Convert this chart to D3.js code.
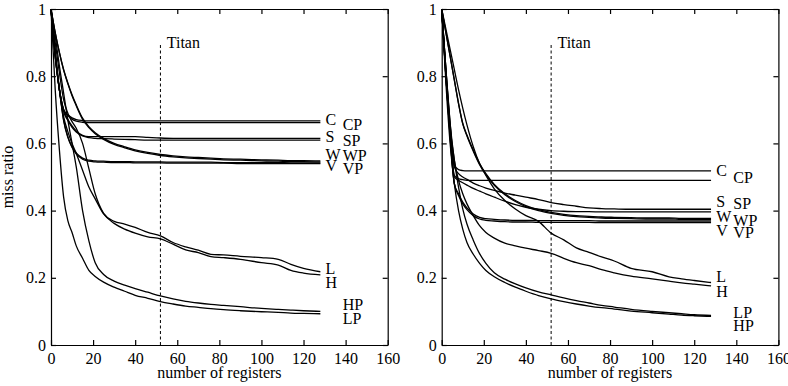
<!DOCTYPE html>
<html>
<head>
<meta charset="utf-8">
<script src="https://cdn.jsdelivr.net/npm/d3@7"></script>
<style>
  body { margin: 0; background: #fff; }
  svg { display: block; font-family: "Liberation Serif", "DejaVu Serif", serif; }
</style>
</head>
<body>
<div id="viz"></div>
<script>
// register counts where the curves are sampled
var regs = [0, 2, 4, 6, 8, 10, 12, 15, 18, 21, 25, 30, 35, 40, 46, 52, 58, 64, 70, 76, 82, 90, 100, 108, 114, 120, 128];

var xTicks = [0, 20, 40, 60, 80, 100, 120, 140, 160];
var yTicks = [0, 0.2, 0.4, 0.6, 0.8, 1];
var titanRegs = 52;

// left panel
var leftC  = [1, 0.86, 0.76, 0.70, 0.685, 0.676, 0.671, 0.668, 0.667, 0.667, 0.667, 0.667, 0.667, 0.667, 0.667, 0.667, 0.667, 0.667, 0.667, 0.667, 0.667, 0.667, 0.667, 0.667, 0.667, 0.667, 0.667];
var leftCP = [1, 0.86, 0.76, 0.70, 0.683, 0.672, 0.666, 0.663, 0.662, 0.662, 0.662, 0.662, 0.662, 0.662, 0.662, 0.662, 0.662, 0.662, 0.662, 0.662, 0.662, 0.662, 0.662, 0.662, 0.662, 0.662, 0.662];
var leftS  = [1, 0.86, 0.76, 0.70, 0.672, 0.652, 0.637, 0.624, 0.620, 0.620, 0.620, 0.620, 0.620, 0.620, 0.618, 0.616, 0.615, 0.615, 0.615, 0.615, 0.615, 0.615, 0.615, 0.615, 0.615, 0.615, 0.615];
var leftSP = [1, 0.86, 0.76, 0.695, 0.668, 0.648, 0.634, 0.622, 0.617, 0.615, 0.614, 0.613, 0.612, 0.611, 0.610, 0.610, 0.610, 0.610, 0.610, 0.610, 0.610, 0.610, 0.610, 0.610, 0.610, 0.610, 0.610];
var leftW  = [1, 0.93, 0.87, 0.82, 0.78, 0.745, 0.715, 0.675, 0.650, 0.632, 0.615, 0.600, 0.590, 0.581, 0.573, 0.567, 0.563, 0.560, 0.558, 0.556, 0.554, 0.553, 0.551, 0.550, 0.549, 0.549, 0.548];
var leftWP = [1, 0.93, 0.87, 0.818, 0.778, 0.742, 0.712, 0.672, 0.647, 0.629, 0.612, 0.597, 0.587, 0.578, 0.570, 0.564, 0.560, 0.557, 0.555, 0.553, 0.551, 0.550, 0.548, 0.547, 0.546, 0.546, 0.545];
var leftV  = [1, 0.87, 0.76, 0.67, 0.62, 0.59, 0.572, 0.556, 0.550, 0.548, 0.547, 0.546, 0.546, 0.545, 0.545, 0.545, 0.544, 0.544, 0.544, 0.544, 0.543, 0.543, 0.543, 0.543, 0.542, 0.542, 0.542];
var leftVP = [1, 0.87, 0.76, 0.668, 0.618, 0.588, 0.569, 0.553, 0.547, 0.545, 0.544, 0.543, 0.543, 0.542, 0.542, 0.542, 0.541, 0.541, 0.541, 0.541, 0.541, 0.540, 0.540, 0.540, 0.540, 0.540, 0.540];
var leftL  = [1, 0.90, 0.81, 0.73, 0.69, 0.665, 0.645, 0.600, 0.525, 0.450, 0.392, 0.368, 0.360, 0.350, 0.335, 0.325, 0.305, 0.292, 0.282, 0.270, 0.268, 0.264, 0.260, 0.255, 0.240, 0.228, 0.218];
var leftH  = [1, 0.87, 0.76, 0.68, 0.635, 0.60, 0.57, 0.520, 0.470, 0.435, 0.390, 0.362, 0.345, 0.333, 0.322, 0.316, 0.300, 0.283, 0.275, 0.263, 0.260, 0.255, 0.245, 0.238, 0.222, 0.214, 0.209];
var leftHP = [1, 0.92, 0.83, 0.75, 0.67, 0.60, 0.53, 0.400, 0.310, 0.245, 0.210, 0.190, 0.178, 0.168, 0.157, 0.146, 0.137, 0.130, 0.125, 0.121, 0.118, 0.114, 0.109, 0.106, 0.104, 0.102, 0.100];
var leftLP = [1, 0.76, 0.58, 0.44, 0.37, 0.335, 0.295, 0.258, 0.222, 0.204, 0.187, 0.172, 0.160, 0.148, 0.139, 0.129, 0.122, 0.116, 0.112, 0.108, 0.105, 0.102, 0.099, 0.097, 0.095, 0.094, 0.093];

// right panel
var rightC  = [1, 0.82, 0.66, 0.535, 0.522, 0.519, 0.518, 0.518, 0.518, 0.518, 0.518, 0.518, 0.518, 0.518, 0.518, 0.518, 0.518, 0.518, 0.518, 0.518, 0.518, 0.518, 0.518, 0.518, 0.518, 0.518, 0.518];
var rightCP = [1, 0.80, 0.63, 0.505, 0.495, 0.492, 0.490, 0.490, 0.490, 0.490, 0.490, 0.490, 0.490, 0.490, 0.490, 0.490, 0.490, 0.490, 0.490, 0.490, 0.490, 0.490, 0.490, 0.490, 0.490, 0.490, 0.490];
var rightS  = [1, 0.81, 0.64, 0.53, 0.51, 0.50, 0.493, 0.482, 0.474, 0.467, 0.460, 0.452, 0.446, 0.440, 0.433, 0.424, 0.418, 0.413, 0.408, 0.406, 0.405, 0.404, 0.404, 0.404, 0.404, 0.404, 0.404];
var rightSP = [1, 0.80, 0.63, 0.50, 0.49, 0.483, 0.476, 0.466, 0.458, 0.450, 0.440, 0.428, 0.418, 0.410, 0.404, 0.400, 0.398, 0.397, 0.397, 0.396, 0.396, 0.396, 0.396, 0.396, 0.396, 0.396, 0.396];
var rightW  = [1, 0.93, 0.86, 0.79, 0.72, 0.66, 0.625, 0.580, 0.540, 0.510, 0.478, 0.450, 0.430, 0.415, 0.403, 0.395, 0.389, 0.385, 0.383, 0.381, 0.380, 0.379, 0.378, 0.378, 0.377, 0.377, 0.377];
var rightWP = [1, 0.93, 0.86, 0.788, 0.718, 0.658, 0.622, 0.577, 0.537, 0.507, 0.475, 0.447, 0.427, 0.412, 0.400, 0.392, 0.386, 0.382, 0.380, 0.378, 0.377, 0.376, 0.375, 0.375, 0.374, 0.374, 0.374];
var rightV  = [1, 0.80, 0.62, 0.48, 0.45, 0.425, 0.408, 0.390, 0.380, 0.376, 0.374, 0.372, 0.371, 0.371, 0.370, 0.370, 0.370, 0.370, 0.370, 0.369, 0.369, 0.369, 0.369, 0.369, 0.369, 0.369, 0.369];
var rightVP = [1, 0.80, 0.62, 0.48, 0.445, 0.42, 0.403, 0.385, 0.375, 0.371, 0.369, 0.367, 0.366, 0.366, 0.365, 0.365, 0.365, 0.365, 0.365, 0.364, 0.364, 0.364, 0.364, 0.364, 0.364, 0.364, 0.364];
var rightL  = [1, 0.94, 0.88, 0.82, 0.76, 0.705, 0.655, 0.590, 0.540, 0.505, 0.465, 0.430, 0.405, 0.385, 0.368, 0.333, 0.313, 0.289, 0.276, 0.262, 0.250, 0.228, 0.218, 0.203, 0.197, 0.192, 0.186];
var rightH  = [1, 0.82, 0.65, 0.55, 0.49, 0.45, 0.42, 0.385, 0.355, 0.335, 0.318, 0.303, 0.295, 0.288, 0.281, 0.273, 0.258, 0.245, 0.236, 0.224, 0.215, 0.205, 0.197, 0.190, 0.185, 0.181, 0.176];
var rightHP = [1, 0.78, 0.60, 0.48, 0.40, 0.345, 0.305, 0.270, 0.243, 0.222, 0.203, 0.186, 0.172, 0.160, 0.147, 0.137, 0.129, 0.122, 0.116, 0.111, 0.107, 0.101, 0.096, 0.092, 0.089, 0.087, 0.085];
var rightLP = [1, 0.82, 0.66, 0.55, 0.47, 0.405, 0.36, 0.312, 0.272, 0.243, 0.215, 0.196, 0.182, 0.170, 0.158, 0.149, 0.140, 0.132, 0.125, 0.118, 0.113, 0.106, 0.100, 0.096, 0.093, 0.090, 0.088];

// end-of-line labels (text centre, in miss ratio units)
var names = ["C", "CP", "S", "SP", "W", "WP", "V", "VP", "L", "H", "HP", "LP"];
var leftLabelY  = [0.670, 0.658, 0.620, 0.608, 0.568, 0.564, 0.536, 0.526, 0.228, 0.186, 0.122, 0.079];
var rightNames  = ["C", "CP", "S", "SP", "W", "WP", "V", "VP", "L", "H", "LP", "HP"];
var rightLabelY = [0.519, 0.499, 0.428, 0.420, 0.382, 0.372, 0.342, 0.335, 0.203, 0.159, 0.097, 0.058];

var W = 788, H = 386;
var pw = 336.7, ph = 336;

var svg = d3.select("#viz").append("svg")
    .attr("width", W)
    .attr("height", H);

var x = d3.scaleLinear().domain([0, 160]).range([0, pw]);
var y = d3.scaleLinear().domain([0, 1]).range([ph, 0]);

var line = d3.line()
    .curve(d3.curveMonotoneX)
    .x(function(d) { return x(d[0]); })
    .y(function(d) { return y(d[1]); });

function drawPanel(left, series, labNames, labY, yLabel) {
  var g = svg.append("g").attr("transform", `translate(${left},9)`);

  // frame with inward ticks on all four sides
  g.append("g")
      .attr("transform", `translate(0,${ph})`)
      .call(d3.axisBottom(x).tickValues(xTicks).tickFormat(function(d) { return d; })
        .tickSizeInner(-5).tickSizeOuter(0).tickPadding(8));
  g.append("g")
      .call(d3.axisTop(x).tickValues(xTicks).tickFormat("")
        .tickSizeInner(-5).tickSizeOuter(0));
  g.append("g")
      .call(d3.axisLeft(y).tickValues(yTicks).tickFormat(function(d) { return d; })
        .tickSizeInner(-5).tickSizeOuter(0).tickPadding(5));
  g.append("g")
      .attr("transform", `translate(${pw},0)`)
      .call(d3.axisRight(y).tickValues(yTicks).tickFormat("")
        .tickSizeInner(-5).tickSizeOuter(0));

  g.selectAll("g").attr("font-family", "Liberation Serif, serif");
  g.selectAll(".domain, .tick line").attr("stroke", "#000").attr("stroke-width", 1.2);
  g.selectAll(".tick text")
      .attr("font-size", 16)
      .attr("fill", "#000");

  // Titan marker
  g.append("line")
      .attr("x1", x(titanRegs)).attr("x2", x(titanRegs))
      .attr("y1", y(0)).attr("y2", y(0.9))
      .attr("stroke", "#000")
      .attr("stroke-width", 1)
      .attr("stroke-dasharray", "3,2.5");
  g.append("text")
      .attr("x", x(55)).attr("y", y(0.883))
      .attr("font-size", 16)
      .text("Titan");

  // curves
  series.forEach(function(s) {
    g.append("path")
        .datum(regs.map(function(r, i) { return [r, s[i]]; }))
        .attr("fill", "none")
        .attr("stroke", "#000")
        .attr("stroke-width", 1.3)
        .attr("d", line);
  });

  // curve names
  labNames.forEach(function(n, i) {
    g.append("text")
        .attr("x", x(n.length > 1 ? 138.6 : 130.5))
        .attr("y", y(labY[i]))
        .attr("dy", "0.35em")
        .attr("font-size", 16)
        .text(n);
  });

  g.append("text")
      .attr("x", pw / 2)
      .attr("y", 369)
      .attr("text-anchor", "middle")
      .attr("font-size", 16)
      .text("number of registers");

  if (yLabel) {
    g.append("text")
        .attr("transform", `translate(${13 - left},${ph / 2}) rotate(-90)`)
        .attr("text-anchor", "middle")
        .attr("font-size", 16)
        .text(yLabel);
  }
}

drawPanel(51, [leftC, leftCP, leftS, leftSP, leftW, leftWP, leftV, leftVP, leftL, leftH, leftHP, leftLP],
  names, leftLabelY, "miss ratio");
drawPanel(441.7, [rightC, rightCP, rightS, rightSP, rightW, rightWP, rightV, rightVP, rightL, rightH, rightHP, rightLP],
  rightNames, rightLabelY, null);
</script>
</body>
</html>
